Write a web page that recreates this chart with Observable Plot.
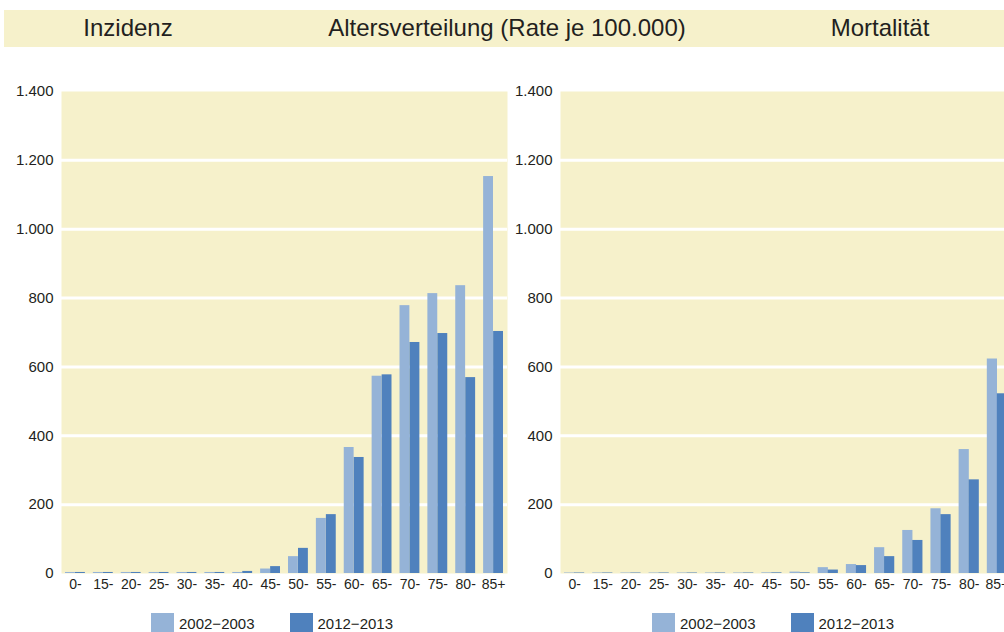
<!DOCTYPE html>
<html>
<head>
<meta charset="utf-8">
<script src="https://cdn.jsdelivr.net/npm/d3@7"></script>
<script src="https://cdn.jsdelivr.net/npm/@observablehq/plot@0.6"></script>
<style>
  html, body { margin: 0; padding: 0; background: #fff; }
  #wrap { position: relative; width: 1004px; height: 632px; overflow: hidden; font-family: "Liberation Sans", Arial, sans-serif; color: #231f20; }
  #titlebar { position: absolute; left: 4px; top: 10px; width: 1000px; height: 37px; background: #f6f1cb; }
  .ttl { position: absolute; top: 15px; font-size: 24px; line-height: 26px; white-space: nowrap; transform: translateX(-50%); }
  .panel { position: absolute; top: 60px; width: 520px; height: 540px; }
  .panel svg { max-width: none !important; }
  .leg { position: absolute; top: 613px; height: 19px; display: flex; align-items: flex-start; font-size: 15px; }
  .sw { display: inline-block; width: 23px; height: 19px; margin-right: 5px; }
  .lt { line-height: 15px; margin-top: 3px; margin-right: 35px; white-space: nowrap; }
</style>
</head>
<body>
<div id="wrap">
  <div id="titlebar"></div>
  <div class="ttl" style="left:128px">Inzidenz</div>
  <div class="ttl" style="left:507px">Altersverteilung (Rate je 100.000)</div>
  <div class="ttl" style="left:880px">Mortalität</div>
  <div id="left" class="panel" style="left:0px"></div>
  <div id="right" class="panel" style="left:506px"></div>
  <div id="legL" class="leg" style="left:151px"></div>
  <div id="legR" class="leg" style="left:652px"></div>
</div>
<script>
const ages = ["0-","15-","20-","25-","30-","35-","40-","45-","50-","55-","60-","65-","70-","75-","80-","85+"];
const periods = ["2002\u22122003", "2012\u22122013"];
const incidence2002 = [3, 3, 3, 3, 3, 3, 3, 13, 49, 160, 366, 573, 778, 813, 836, 1153];
const incidence2012 = [3, 3, 3, 3, 3, 3, 6, 20, 73, 171, 337, 577, 671, 697, 569, 703];
const mortality2002 = [1.5, 1.5, 1.5, 1.5, 1.5, 1.5, 1.5, 2, 4, 17, 26, 75, 125, 188, 360, 623];
const mortality2012 = [1.5, 1.5, 1.5, 1.5, 1.5, 1.5, 1.5, 2, 2, 10, 23, 49, 96, 171, 272, 522];
const yTicks = [0, 200, 400, 600, 800, 1000, 1200, 1400];
const gridTicks = [200, 400, 600, 800, 1000, 1200];

const colors = ["#95b3d7", "#4f81bd"];
const bg = "#f6f1cb";
const de = d3.formatLocale({decimal: ",", thousands: ".", grouping: [3], currency: ["", " €"]});
const fmt = de.format(",d");

function chart(s1, s2, width, marginLeft) {
  const rows1 = ages.map((a, i) => ({age: a, value: s1[i]}));
  const rows2 = ages.map((a, i) => ({age: a, value: s2[i]}));
  return Plot.plot({
    width, height: 540,
    marginTop: 31, marginBottom: 27, marginLeft, marginRight: 0,
    style: {fontFamily: "Liberation Sans, Arial, sans-serif", fontSize: "14px", color: "#231f20", background: "transparent", overflow: "visible"},
    x: {domain: ages, padding: 0, round: false},
    y: {domain: [0, 1400]},
    marks: [
      Plot.frame({fill: bg, stroke: "none"}),
      Plot.ruleY(gridTicks, {stroke: "white", strokeWidth: 3}),
      Plot.barY(rows1, {x: "age", y: "value", fill: colors[0], insetLeft: 4, insetRight: 14}),
      Plot.barY(rows2, {x: "age", y: "value", fill: colors[1], insetLeft: 14, insetRight: 4}),
      Plot.axisY(yTicks, {tickSize: 0, tickPadding: 8, tickFormat: fmt, label: null, fontSize: 15}),
      Plot.axisX({tickSize: 0, tickPadding: 6, label: null, fontSize: 14})
    ]
  });
}

document.getElementById("left").append(chart(incidence2002, incidence2012, 507, 61));
document.getElementById("right").append(chart(mortality2002, mortality2012, 505, 54));

for (const id of ["legL", "legR"]) {
  const el = document.getElementById(id);
  periods.forEach((p, i) => {
    const sw = document.createElement("span");
    sw.className = "sw"; sw.style.background = colors[i];
    const t = document.createElement("span");
    t.className = "lt"; t.textContent = p;
    el.append(sw, t);
  });
}
</script>
</body>
</html>
